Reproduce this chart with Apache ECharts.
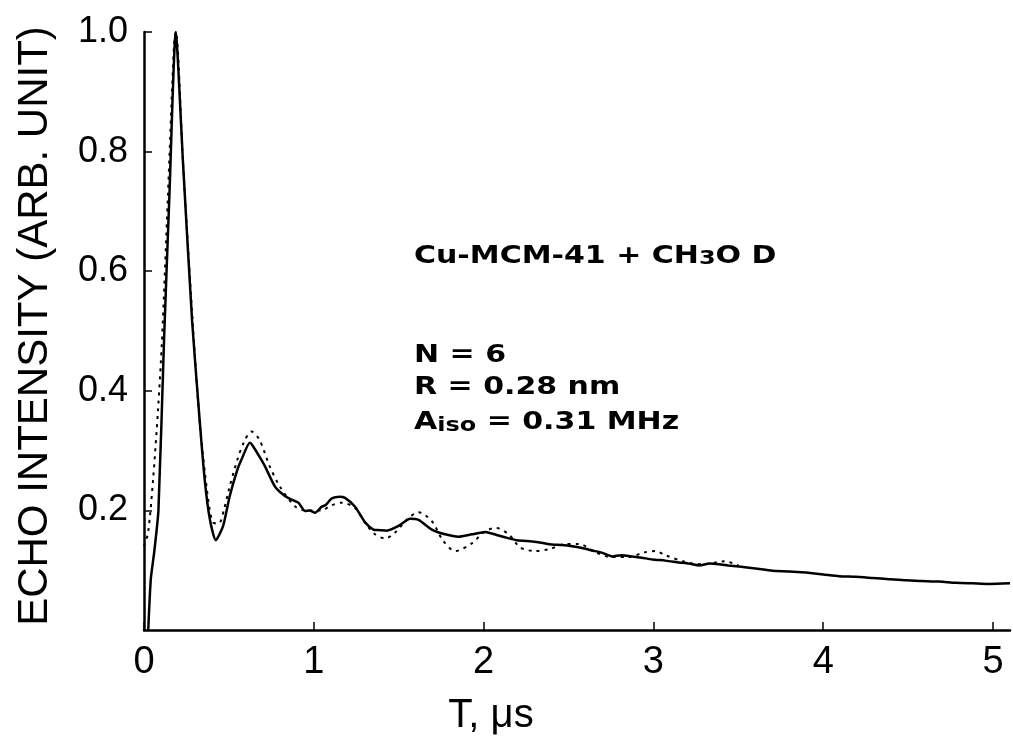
<!DOCTYPE html>
<html>
<head>
<meta charset="utf-8">
<script src="https://cdn.jsdelivr.net/npm/echarts@6/dist/echarts.min.js"></script>
<style>
html,body{margin:0;padding:0;background:#fff;}
#chart{width:1013px;height:741px;}
</style>
</head>
<body>
<div id="chart"></div>
<script>
// Experimental echo decay (solid)
const expT = [0.025, 0.04, 0.06, 0.085, 0.118, 0.15, 0.187, 0.23, 0.283, 0.328, 0.358, 0.388, 0.423, 0.466, 0.505, 0.55, 0.574, 0.623, 0.643, 0.68, 0.712, 0.771, 0.83, 0.87, 0.909, 0.948, 0.975, 1.007, 1.046, 1.07, 1.105, 1.15, 1.184, 1.243, 1.302, 1.351, 1.39, 1.43, 1.499, 1.567, 1.617, 1.695, 1.774, 1.853, 1.931, 2.01, 2.088, 2.14, 2.197, 2.285, 2.34, 2.403, 2.46, 2.521, 2.58, 2.639, 2.70, 2.757, 2.81, 2.875, 2.93, 2.993, 3.07, 3.15, 3.21, 3.27, 3.33, 3.386, 3.44, 3.504, 3.6, 3.7, 3.8, 3.898, 4.0, 4.094, 4.19, 4.29, 4.39, 4.488, 4.58, 4.684, 4.78, 4.881, 4.98, 5.1];
const expEcho = [0.0, 0.085, 0.13, 0.2, 0.485, 0.73, 1.0, 0.78, 0.518, 0.35, 0.25, 0.185, 0.15, 0.174, 0.224, 0.268, 0.285, 0.313, 0.307, 0.29, 0.274, 0.24, 0.224, 0.218, 0.213, 0.199, 0.2, 0.196, 0.206, 0.209, 0.22, 0.223, 0.221, 0.206, 0.18, 0.168, 0.167, 0.166, 0.174, 0.186, 0.184, 0.168, 0.16, 0.156, 0.16, 0.164, 0.158, 0.154, 0.15, 0.148, 0.146, 0.143, 0.142, 0.14, 0.137, 0.133, 0.129, 0.123, 0.125, 0.123, 0.121, 0.118, 0.116, 0.113, 0.111, 0.108, 0.111, 0.11, 0.108, 0.106, 0.103, 0.099, 0.098, 0.096, 0.093, 0.09, 0.089, 0.087, 0.085, 0.083, 0.082, 0.081, 0.079, 0.078, 0.077, 0.078];
// Simulated echo decay (dashed)
const simT = [0.0, 0.024, 0.053, 0.083, 0.106, 0.14, 0.177, 0.187, 0.23, 0.29, 0.33, 0.36, 0.385, 0.407, 0.44, 0.47, 0.5, 0.55, 0.59, 0.633, 0.68, 0.74, 0.8, 0.889, 0.95, 1.046, 1.1, 1.164, 1.243, 1.3, 1.36, 1.42, 1.479, 1.55, 1.617, 1.695, 1.76, 1.833, 1.931, 2.0, 2.069, 2.147, 2.216, 2.305, 2.383, 2.47, 2.56, 2.659, 2.75, 2.85, 2.95, 3.013, 3.07, 3.2, 3.3, 3.42, 3.5];
const simEcho = [0.14, 0.163, 0.25, 0.37, 0.485, 0.72, 0.98, 1.0, 0.78, 0.5, 0.34, 0.26, 0.205, 0.18, 0.178, 0.2, 0.235, 0.285, 0.315, 0.332, 0.318, 0.274, 0.24, 0.207, 0.2, 0.2, 0.208, 0.213, 0.204, 0.18, 0.16, 0.153, 0.163, 0.185, 0.197, 0.182, 0.15, 0.132, 0.145, 0.163, 0.171, 0.16, 0.138, 0.132, 0.135, 0.143, 0.144, 0.13, 0.122, 0.122, 0.13, 0.132, 0.125, 0.113, 0.11, 0.115, 0.108];
const xTicks = [0, 1, 2, 3, 4, 5];
const yTicks = [0.2, 0.4, 0.6, 0.8, 1.0];

const chart = echarts.init(document.getElementById('chart'), null, {renderer: 'canvas'});
const font = "'Liberation Sans', Arial, Helvetica, sans-serif";
const bfont = "'DejaVu Sans', 'Liberation Sans', sans-serif";
const zip = (a, b) => a.map((v, i) => [v, b[i]]);

chart.setOption({
  backgroundColor: '#ffffff',
  animation: false,
  grid: {left: 144, top: 32, right: 3, bottom: 111, containLabel: false},
  xAxis: {
    type: 'value', min: 0, max: 5.1, interval: 1,
    axisLine: {show: true, onZero: false, lineStyle: {color: '#000', width: 2.5}},
    axisTick: {show: true, inside: true, length: 8, customValues: xTicks, lineStyle: {color: '#000', width: 1.5}},
    axisLabel: {customValues: xTicks, color: '#000', fontFamily: font, fontSize: 38, margin: 14, formatter: v => String(v)},
    splitLine: {show: false}
  },
  yAxis: {
    type: 'value', min: 0, max: 1.0, interval: 0.2,
    axisLine: {show: true, lineStyle: {color: '#000', width: 2.5}},
    axisTick: {show: true, inside: true, length: 8, customValues: yTicks, lineStyle: {color: '#000', width: 1.5}},
    axisLabel: {customValues: yTicks, color: '#000', fontFamily: font, fontSize: 36, margin: 16, formatter: v => v.toFixed(1)},
    splitLine: {show: false}
  },
  series: [
    {
      name: 'simulation', type: 'line', data: zip(simT, simEcho), showSymbol: false, smooth: 0.3,
      lineStyle: {color: '#000', width: 2, type: [3, 5]}, z: 2
    },
    {
      name: 'experiment', type: 'line', data: zip(expT, expEcho), showSymbol: false, smooth: 0.2,
      lineStyle: {color: '#000', width: 2.5}, z: 3
    }
  ],
  graphic: [
    {type: 'text', x: 414, y: 243, scaleX: 1.2, style: {text: 'Cu-MCM-41 + CH{sub|3}O D', fill: '#000', font: "bold 25px " + bfont,
      rich: {sub: {font: "bold 20px " + bfont, fill: '#000', padding: [6, 0, 0, 0]}}}},
    {type: 'text', x: 414, y: 343, scaleX: 1.2, style: {text: 'N = 6', fill: '#000', font: "bold 25px " + bfont}},
    {type: 'text', x: 414, y: 375, scaleX: 1.2, style: {text: 'R = 0.28 nm', fill: '#000', font: "bold 25px " + bfont}},
    {type: 'text', x: 414, y: 408, scaleX: 1.2, style: {text: 'A{sub|iso} = 0.31 MHz', fill: '#000', font: "bold 25px " + bfont,
      rich: {sub: {font: "bold 20px " + bfont, fill: '#000', padding: [8, 0, 0, 0]}}}},
    {type: 'text', x: 491, y: 716, style: {text: 'T, \u03bcs', fill: '#000', font: "40px " + font, align: 'center', verticalAlign: 'middle'}},
    {type: 'text', x: 35, y: 326, rotation: Math.PI / 2, style: {text: 'ECHO INTENSITY (ARB. UNIT)', fill: '#000', font: "42px " + font, align: 'center', verticalAlign: 'middle'}}
  ]
});
</script>
</body>
</html>
